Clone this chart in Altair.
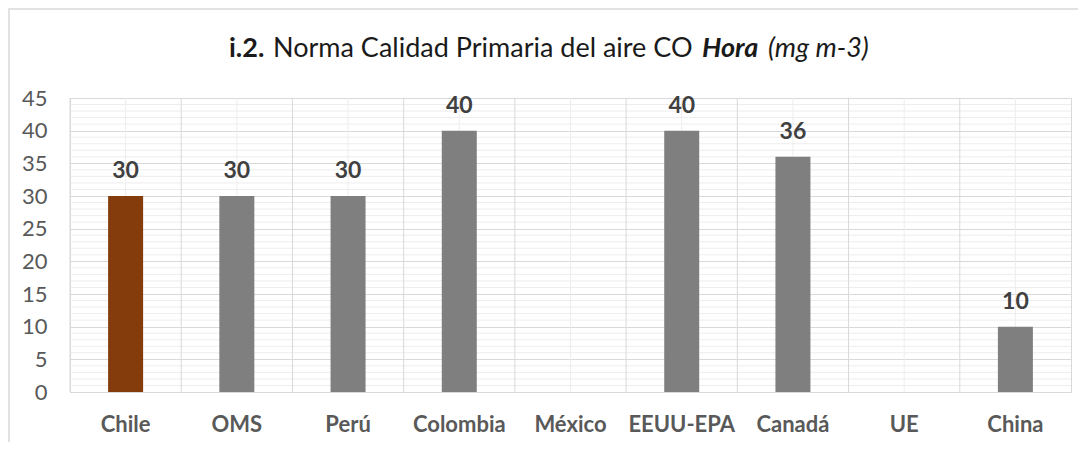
import altair as alt
import pandas as pd

countries = ["Chile", "OMS", "Perú", "Colombia", "México", "EEUU-EPA", "Canadá", "UE", "China"]
values = [30, 30, 30, 40, None, 40, 36, None, 10]
bar_colors = ["#843C0C", "#7F7F7F", "#7F7F7F", "#7F7F7F", "#7F7F7F", "#7F7F7F", "#7F7F7F", "#7F7F7F", "#7F7F7F"]
major_ticks = [0, 5, 10, 15, 20, 25, 30, 35, 40, 45]
minor_ticks = [v for v in range(0, 46) if v % 5 != 0]
title_parts = ["i.2.", "Norma Calidad Primaria del aire CO", "Hora", "(mg m-3)"]

W, H = 1001, 294
FONT = "Lato"

df = pd.DataFrame({"pais": countries, "valor": values, "color": bar_colors})
df_minor = pd.DataFrame({"valor": minor_ticks})
df_cats = pd.DataFrame({"pais": countries})

xscale = alt.Scale(domain=countries, paddingInner=0, paddingOuter=0)
yscale = alt.Scale(domain=[0, 45], nice=False)

x_axis = alt.Axis(
    title=None, labelFont=FONT, labelFontSize=22, labelFontWeight="bold",
    labelColor="#595959", labelPadding=22, ticks=False, domain=False,
    grid=False, labelAngle=0,
)
y_axis = alt.Axis(
    title=None, values=major_ticks, labelFont=FONT, labelFontSize=22,
    labelColor="#595959", labelPadding=23, ticks=False, domain=False,
    grid=True, gridColor="#D9D9D9", gridWidth=1,
)

minor_h = alt.Chart(df_minor).mark_rule(color="#EDEDED", strokeWidth=1).encode(
    y=alt.Y("valor:Q", scale=yscale, axis=y_axis)
)

center_v = alt.Chart(df_cats).mark_rule(color="#EDEDED", strokeWidth=1).encode(
    x=alt.X("pais:N", scale=xscale, sort=countries, axis=x_axis)
)

bound_v = alt.Chart(df_cats).mark_rule(color="#D9D9D9", strokeWidth=1).encode(
    x=alt.X("pais:N", scale=xscale, sort=countries, bandPosition=0, axis=x_axis)
)

bars = alt.Chart(df).mark_bar(width=35).encode(
    x=alt.X("pais:N", scale=xscale, sort=countries, axis=x_axis),
    y=alt.Y("valor:Q", scale=yscale, axis=y_axis),
    color=alt.Color("color:N", scale=None),
)

labels = alt.Chart(df).mark_text(
    font=FONT, fontSize=23, fontWeight="bold", color="#404040", dy=-18, baseline="alphabetic"
).encode(
    x=alt.X("pais:N", scale=xscale, sort=countries, axis=x_axis),
    y=alt.Y("valor:Q", scale=yscale, axis=y_axis),
    text=alt.Text("valor:Q", format="d"),
)

one = alt.Data(values=[{}])
TY = -41
TS = 27
t1 = alt.Chart(one).mark_text(text=title_parts[0], font=FONT, fontSize=TS, fontWeight="bold",
                              color="#1A1A1A", align="left", baseline="alphabetic").encode(
    x=alt.value(159), y=alt.value(TY))
t2 = alt.Chart(one).mark_text(text=title_parts[1], font=FONT, fontSize=TS, fontWeight="normal",
                              color="#1A1A1A", align="left", baseline="alphabetic").encode(
    x=alt.value(203), y=alt.value(TY))
t3 = alt.Chart(one).mark_text(text=title_parts[2], font=FONT, fontSize=TS, fontWeight="bold",
                              fontStyle="italic", color="#1A1A1A", align="left",
                              baseline="alphabetic").encode(
    x=alt.value(632), y=alt.value(TY))
t4 = alt.Chart(one).mark_text(text=title_parts[3], font=FONT, fontSize=TS, fontStyle="italic",
                              color="#1A1A1A", align="left", baseline="alphabetic").encode(
    x=alt.value(698), y=alt.value(TY))

border = alt.Chart(one).mark_rect(fill="transparent", stroke="#D9D9D9", strokeWidth=1.5).encode(
    x=alt.value(-61), x2=alt.value(W + 40), y=alt.value(-89), y2=alt.value(H + 120)
)

chart = alt.layer(
    minor_h, center_v, bound_v, bars, labels, t1, t2, t3, t4, border
).properties(
    width=W, height=H,
    autosize=alt.AutoSizeParams(type="none"),
    padding={"left": 62, "top": 90, "right": 7, "bottom": 50},
    background="white",
).configure_view(stroke="#D9D9D9", strokeWidth=1)

chart.save("out.html", embed_options={"renderer": "svg", "actions": False})
